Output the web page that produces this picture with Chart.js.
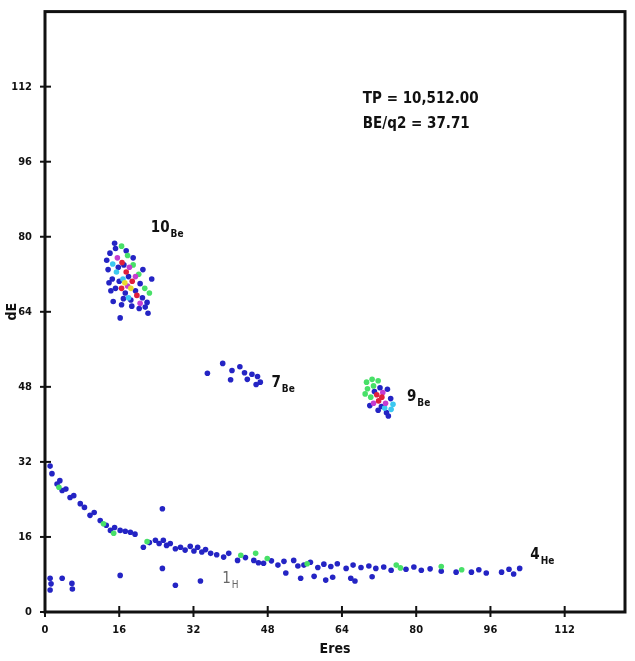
<!DOCTYPE html>
<html>
<head>
<meta charset="utf-8">
<script src="https://cdn.jsdelivr.net/npm/chart.js@4.4.1/dist/chart.umd.min.js"></script>
<style>
  html, body { margin: 0; padding: 0; background: #fff; }
  #wrap { width: 635px; height: 661px; }
</style>
</head>
<body>
<div id="wrap"><canvas id="grafico" width="635" height="661"></canvas></div>
<script>
// ejes
const xTickVals = [0, 16, 32, 48, 64, 80, 96, 112];
const xTickLabels = ["0", "16", "32", "48", "64", "80", "96", "112"];
const yTickVals = [0, 16, 32, 48, 64, 80, 96, 112];
const yTickLabels = ["0", "16", "32", "48", "64", "80", "96", "112"];

// puntos [Eres, dE] por color
const puntosAzul = [
  // 10Be
  [14.0,76.5],[13.3,75.0],[15.2,77.5],[13.6,73.0],[14.5,71.0],[15.2,69.0],[14.7,66.2],[16.5,65.5],
  [18.7,65.2],[20.3,64.7],[22.2,63.7],[16.2,62.7],[23.0,71.0],[21.1,73.0],[17.0,74.0],[18.0,71.5],
  [19.5,68.5],[17.3,68.0],[21.0,67.0],[16.0,70.5],[19.0,75.5],[20.5,70.0],[15.8,73.5],[18.5,66.5],
  [22.0,66.0],[14.2,68.5],[17.5,77.0],[15.0,78.6],[13.8,70.2],[16.9,66.8],[21.6,65.0],
  // 7Be
  [35.0,50.9],[38.3,53.0],[40.3,51.5],[40.0,49.5],[43.0,51.0],[43.6,49.6],[44.6,50.7],[45.8,50.2],
  [46.4,49.0],[42.0,52.3],[45.5,48.5],
  // 9Be
  [72.2,47.8],[73.8,47.5],[71.0,47.0],[74.5,45.5],[72.5,43.8],[73.6,42.5],[74.0,41.8],[71.8,43.0],[70.0,44.0],
  // 4He
  [1.1,31.1],[1.5,29.5],[2.6,27.3],[3.2,28.0],[3.7,25.9],[4.5,26.2],[5.4,24.4],[6.2,24.8],[7.6,23.1],
  [8.5,22.3],[9.7,20.6],[10.6,21.2],[11.9,19.5],[13.2,18.5],[14.1,17.4],[15.0,18.0],[16.2,17.4],
  [17.3,17.2],[18.4,17.0],[19.4,16.6],[21.2,13.8],[22.5,14.8],[23.8,15.3],[24.6,14.6],[25.5,15.3],
  [26.2,14.2],[27.0,14.6],[28.1,13.5],[29.2,13.8],[30.2,13.2],[31.3,14.0],[32.1,13.0],[32.9,13.8],
  [33.8,12.8],[34.6,13.3],[35.7,12.5],[37.0,12.2],[38.5,11.7],[39.6,12.5],[41.5,11.0],[43.2,11.6],
  [45.0,11.0],[46.0,10.5],[47.1,10.4],[48.8,10.9],[50.2,10.0],[51.5,10.8],[53.6,11.0],[54.5,9.8],
  [55.8,10.0],[57.2,10.6],[58.8,9.5],[60.1,10.2],[61.6,9.7],[63.0,10.3],[64.9,9.3],[66.4,10.0],
  [68.1,9.5],[69.8,9.8],[71.3,9.3],[73.0,9.6],[74.6,8.9],[77.8,9.1],[79.5,9.6],[81.1,8.9],[83.0,9.2],
  [85.4,8.7],[88.6,8.5],[91.9,8.5],[93.5,9.0],[95.1,8.3],[98.4,8.5],[100.0,9.1],[101.0,8.1],[102.3,9.3],
  // sueltos / 1H
  [1.1,7.2],[1.1,4.7],[1.3,6.0],[3.7,7.2],[5.8,6.1],[5.9,4.9],[16.2,7.8],[25.3,9.3],[25.3,22.0],
  [28.1,5.7],[33.5,6.6],[51.9,8.3],[55.1,7.2],[58.0,7.6],[60.5,6.8],[62.0,7.4],[65.9,7.2],[66.8,6.6],[70.5,7.5]
];
const puntosVerde = [
  [20.2,72.0],[19.0,74.0],[21.5,69.0],[17.8,76.0],[22.5,68.0],[16.5,78.0],
  [69.3,49.0],[70.5,49.6],[71.8,49.3],[69.5,47.6],[70.8,48.2],[69.0,46.5],[70.2,45.8],
  [3.0,26.6],[12.6,18.8],[14.8,16.8],[22.0,15.0],[42.2,12.1],[45.4,12.5],[47.9,11.4],
  [56.5,10.3],[75.7,10.0],[76.6,9.4],[85.4,9.7],[89.8,9.0]
];
const puntosRojo = [[16.6,74.5],[17.5,72.5],[18.8,70.5],[16.5,69.0],[19.8,67.5],[71.5,46.3],[72.6,45.8],[71.9,45.0]];
const puntosMagenta = [[15.6,75.5],[18.2,73.5],[17.8,69.5],[20.5,65.8],[19.5,71.5],[72.8,46.8],[73.4,44.5],[70.8,44.5]];
const puntosCian = [[15.4,72.5],[16.8,71.0],[14.6,74.2],[18.0,67.0],[74.6,43.2],[75.0,44.3],[73.2,43.5]];
const puntosAmarillo = [[17.2,70.2],[18.5,69.0]];

// etiquetas de los grupos
const etiquetas = [
  { x: 22.8, y: 81.0, num: "10", sub: "Be", color: "#111" },
  { x: 48.8, y: 48.0, num: "7", sub: "Be", color: "#111" },
  { x: 78.0, y: 45.0, num: "9", sub: "Be", color: "#111" },
  { x: 104.6, y: 11.2, num: "4", sub: "He", color: "#111" },
  { x: 38.2, y: 6.2, num: "1", sub: "H", color: "#666" }
];
const textoInfo = ["TP = 10,512.00", "BE/q2 = 37.71"];

const fuente = "'Liberation Sans Narrow', 'DejaVu Sans Condensed', sans-serif";

function serie(puntos, color) {
  return {
    data: puntos.map(p => ({ x: p[0], y: p[1] })),
    backgroundColor: color,
    borderWidth: 0,
    pointRadius: 2.8
  };
}

const marcoYMarcas = {
  id: "marcoYMarcas",
  afterDraw(chart) {
    const { ctx, chartArea: a, scales } = chart;
    ctx.save();
    ctx.strokeStyle = "#111";
    ctx.lineWidth = 3;
    ctx.strokeRect(a.left, a.top, a.right - a.left, a.bottom - a.top);
    ctx.lineWidth = 2;
    xTickVals.forEach(v => {
      const px = scales.x.getPixelForValue(v);
      ctx.beginPath(); ctx.moveTo(px, a.bottom - 6); ctx.lineTo(px, a.bottom + 5); ctx.stroke();
    });
    yTickVals.forEach(v => {
      const py = scales.y.getPixelForValue(v);
      ctx.beginPath(); ctx.moveTo(a.left - 5, py); ctx.lineTo(a.left + 6, py); ctx.stroke();
    });

    // etiquetas
    etiquetas.forEach(e => {
      const px = scales.x.getPixelForValue(e.x);
      const py = scales.y.getPixelForValue(e.y);
      ctx.fillStyle = e.color;
      ctx.textBaseline = "alphabetic";
      ctx.textAlign = "left";
      const peso = e.color === "#111" ? "bold " : "";
      ctx.font = peso + "15px " + fuente;
      ctx.fillText(e.num, px, py);
      const w = ctx.measureText(e.num).width;
      ctx.font = peso + "10px " + fuente;
      ctx.fillText(e.sub, px + w + 1, py + 5);
    });

    ctx.fillStyle = "#111";
    ctx.font = "bold 15px " + fuente;
    const tx = scales.x.getPixelForValue(68.5);
    textoInfo.forEach((t, i) => {
      ctx.fillText(t, tx, scales.y.getPixelForValue(108.5) + i * 25);
    });
    ctx.restore();
  }
};

new Chart(document.getElementById("grafico"), {
  type: "scatter",
  data: {
    datasets: [
      serie(puntosAmarillo, "#e8dc30"),
      serie(puntosRojo, "#e0203c"),
      serie(puntosMagenta, "#c63cd0"),
      serie(puntosCian, "#3cc8f0"),
      serie(puntosVerde, "#48e068"),
      serie(puntosAzul, "#2424c4")
    ]
  },
  options: {
    responsive: false,
    animation: false,
    layout: { padding: { top: 10, right: 10, left: 4, bottom: 0 } },
    plugins: { legend: { display: false }, tooltip: { enabled: false } },
    scales: {
      x: {
        type: "linear",
        min: 0,
        max: 125,
        afterBuildTicks: s => { s.ticks = xTickVals.map(v => ({ value: v })); },
        afterFit: s => { s.height = 49; },
        grid: { display: false },
        border: { display: false },
        ticks: {
          padding: 4,
          maxRotation: 0,
          color: "#111",
          font: { family: fuente, size: 11, weight: "bold" },
          callback: (v, i) => xTickLabels[i]
        },
        title: {
          display: true,
          text: "Eres",
          color: "#111",
          padding: { top: 2, bottom: 3 },
          font: { family: fuente, size: 14, weight: "bold" }
        }
      },
      y: {
        type: "linear",
        min: 0,
        max: 128,
        afterBuildTicks: s => { s.ticks = yTickVals.map(v => ({ value: v })); },
        afterFit: s => { s.width = 41; },
        grid: { display: false },
        border: { display: false },
        ticks: {
          padding: 5,
          color: "#111",
          font: { family: fuente, size: 11, weight: "bold" },
          callback: (v, i) => yTickLabels[i]
        },
        title: {
          display: true,
          text: "dE",
          color: "#111",
          padding: { top: 0, bottom: 2 },
          font: { family: fuente, size: 14, weight: "bold" }
        }
      }
    }
  },
  plugins: [marcoYMarcas]
});
</script>
</body>
</html>
